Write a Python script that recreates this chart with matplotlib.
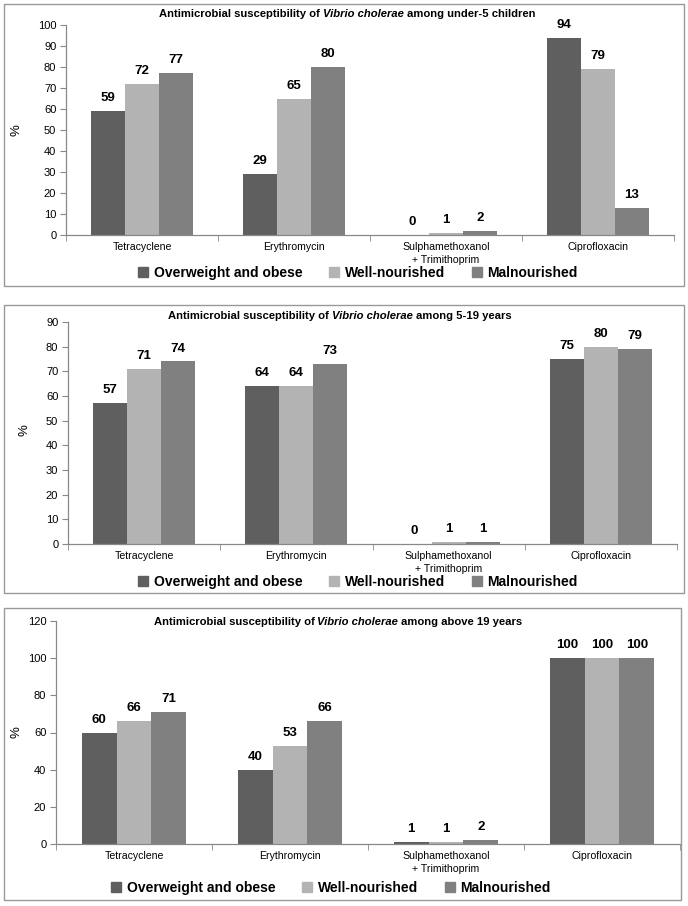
import matplotlib
matplotlib.use("Agg")
import matplotlib.pyplot as plt
import numpy as np
from matplotlib.patches import Rectangle, Patch
from matplotlib.offsetbox import TextArea, HPacker, AnchoredOffsetbox

plt.rcParams['font.family'] = ['Liberation Sans', 'DejaVu Sans']

drugs = ["Tetracyclene", "Erythromycin", "Sulphamethoxanol\n+ Trimithoprim", "Ciprofloxacin"]
groups = ["Overweight and obese", "Well-nourished", "Malnourished"]
colors = ["#5f5f5f", "#b3b3b3", "#808080"]

# under-5 children
u5_over = [59, 29, 0, 94]
u5_well = [72, 65, 1, 79]
u5_mal = [77, 80, 2, 13]
# 5-19 years
y519_over = [57, 64, 0, 75]
y519_well = [71, 64, 1, 80]
y519_mal = [74, 73, 1, 79]
# above 19 years
a19_over = [60, 40, 1, 100]
a19_well = [66, 53, 1, 100]
a19_mal = [71, 66, 2, 100]

W, H = 688, 906
fig = plt.figure(figsize=(W / 100, H / 100), dpi=100)
fig.patch.set_facecolor("white")


def fx(px):
    return px / W


def fy(py):
    return 1 - py / H


def panel(series, suffix, yticks, axbox, frame, title_xy, legend_xy, ylab_xy):
    """ One framed bar chart panel; boxes are given in pixels. """
    l, t, r, b = axbox
    ax = fig.add_axes([fx(l), fy(b), fx(r) - fx(l), fy(t) - fy(b)])
    x = np.arange(len(drugs))
    w = 0.223
    for i, vals in enumerate(series):
        bars = ax.bar(x + (i - 1) * w, vals, w, color=colors[i], label=groups[i])
        for rect, v in zip(bars, vals):
            ax.annotate(str(v), (rect.get_x() + rect.get_width() / 2, v),
                        xytext=(0, 5), textcoords="offset points",
                        ha="center", va="bottom", fontsize=9.5, fontweight="bold")
    ax.set_xlim(-0.5, len(drugs) - 0.5)
    ax.set_ylim(0, yticks[-1])
    ax.set_yticks(yticks)
    ax.set_xticks(x)
    ax.set_xticklabels(drugs, fontsize=7.6, linespacing=1.35)
    ax.set_xticks(np.arange(-0.5, len(drugs)), minor=True)
    ax.tick_params(axis="x", which="major", length=0, pad=5)
    ax.tick_params(axis="x", which="minor", length=4, color="#888888")
    ax.tick_params(axis="y", length=4, color="#888888", labelsize=8, pad=3)
    for s in ["top", "right"]:
        ax.spines[s].set_visible(False)
    for s in ["left", "bottom"]:
        ax.spines[s].set_color("#888888")
        ax.spines[s].set_linewidth(0.9)

    fig.text(fx(ylab_xy[0]), fy(ylab_xy[1]), "%", rotation=90,
             ha="center", va="center", fontsize=9.5)

    parts = [TextArea("Antimicrobial susceptibility of", textprops=dict(weight="bold", size=8.1)),
             TextArea("Vibrio cholerae", textprops=dict(style="italic", weight="bold", size=8.1)),
             TextArea(suffix, textprops=dict(weight="bold", size=8.1))]
    box = HPacker(children=parts, align="baseline", pad=0, sep=2.2)
    anch = AnchoredOffsetbox(loc="center", child=box, pad=0, borderpad=0, frameon=False,
                             bbox_to_anchor=(fx(title_xy[0]), fy(title_xy[1])),
                             bbox_transform=fig.transFigure)
    fig.add_artist(anch)

    handles = [Patch(color=c) for c in colors]
    ax.legend(handles, groups, loc="center", ncol=3, frameon=False,
              bbox_to_anchor=(fx(legend_xy[0]), fy(legend_xy[1])),
              bbox_transform=fig.transFigure,
              prop={"weight": "bold", "size": 10},
              handlelength=0.75, handleheight=0.75, handletextpad=0.4,
              columnspacing=1.9, borderaxespad=0, borderpad=0)

    fl, ft, fr, fb = frame
    fig.add_artist(Rectangle((fx(fl), fy(fb)), fx(fr) - fx(fl), fy(ft) - fy(fb),
                             transform=fig.transFigure, fill=False,
                             edgecolor="#999999", linewidth=1))
    return ax


panel([u5_over, u5_well, u5_mal], "among under-5 children", np.arange(0, 101, 10),
      (66, 25, 674, 235), (4, 4, 684, 286), (347, 14), (358, 273), (17, 130))
panel([y519_over, y519_well, y519_mal], "among 5-19 years", np.arange(0, 91, 10),
      (68, 322, 677, 544), (4, 305, 684, 593), (340, 316), (358, 582), (24, 430))
panel([a19_over, a19_well, a19_mal], "among above 19 years", np.arange(0, 121, 20),
      (56, 621, 680, 844), (4, 608, 681, 900), (338, 622), (331, 888), (17, 732))

plt.savefig("out.png", dpi=100, facecolor="white")
